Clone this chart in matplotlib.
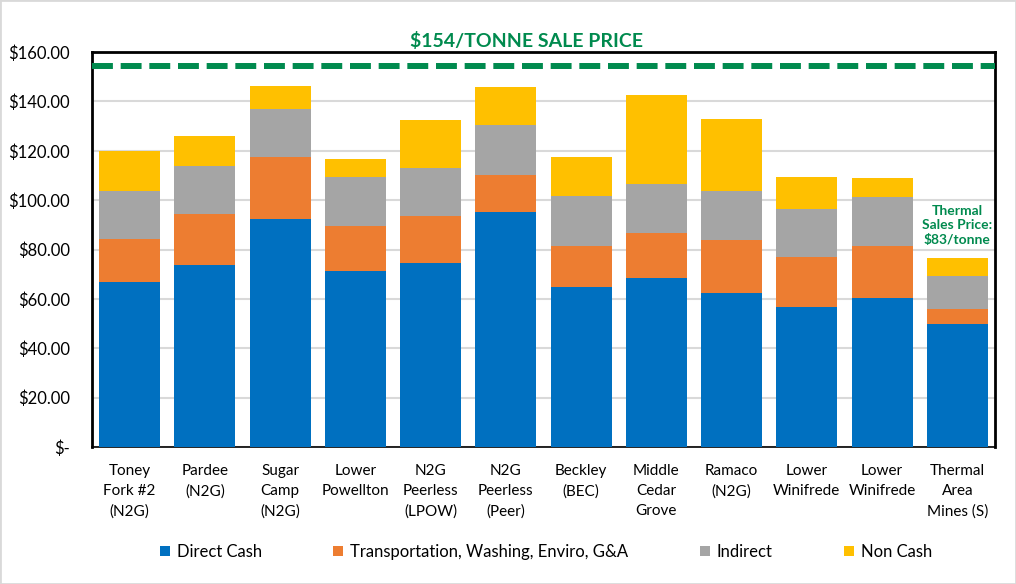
import matplotlib
matplotlib.use("Agg")
import matplotlib.pyplot as plt
import numpy as np
from matplotlib.patches import Rectangle

categories = ["Toney\nFork #2\n(N2G)", "Pardee\n(N2G)", "Sugar\nCamp\n(N2G)", "Lower\nPowellton",
              "N2G\nPeerless\n(LPOW)", "N2G\nPeerless\n(Peer)", "Beckley\n(BEC)", "Middle\nCedar\nGrove",
              "Ramaco\n(N2G)", "Lower\nWinifrede", "Lower\nWinifrede", "Thermal\nArea\nMines (S)"]
direct_cash = [66.7, 73.6, 92.3, 71.1, 74.4, 95.0, 64.7, 68.3, 62.2, 56.6, 60.2, 49.7]
transport = [17.4, 20.6, 25.0, 18.3, 19.0, 15.3, 16.9, 18.3, 21.5, 20.3, 21.1, 6.4]
indirect = [19.7, 19.8, 19.8, 19.8, 19.8, 20.0, 19.9, 19.8, 19.8, 19.7, 19.8, 13.0]
non_cash = [16.3, 11.8, 9.3, 7.3, 19.1, 15.7, 15.8, 36.0, 29.2, 12.6, 7.7, 7.3]
series_names = ["Direct Cash", "Transportation, Washing, Enviro, G&A", "Indirect", "Non Cash"]
colors = ["#0070c0", "#ed7d31", "#a5a5a5", "#ffc000"]
sale_price = 154.3
yticks = [0, 20, 40, 60, 80, 100, 120, 140, 160]
ytick_labels = ["$-", "$20.00", "$40.00", "$60.00", "$80.00", "$100.00", "$120.00", "$140.00", "$160.00"]
title_text = "$154/TONNE SALE PRICE"
thermal_note = "Thermal\nSales Price:\n$83/tonne"
thermal_note_y = 89.8

plt.rcParams['font.family'] = ['Lato', 'DejaVu Sans']
green = "#008a4e"

fig = plt.figure(figsize=(10.16, 5.84), dpi=100)
ax = fig.add_axes([92/1016, 1-447/584, (995-92)/1016, (447-52)/584])

x = np.arange(len(categories))
bottom = np.zeros(len(categories))
handles = []
for vals, c, name in zip([direct_cash, transport, indirect, non_cash], colors, series_names):
    b = ax.bar(x, vals, width=0.81, bottom=bottom, color=c, label=name, zorder=3)
    handles.append(b)
    bottom += np.array(vals)

ax.axhline(sale_price, color=green, lw=4.3, linestyle=(0, (3.5, 1.3)), zorder=4)

ax.set_xlim(-0.5, len(categories) - 0.5)
ax.set_ylim(0, 160)
ax.set_yticks(yticks)
ax.set_yticklabels(ytick_labels, fontsize=12)
ax.set_xticks(x)
ax.set_xticklabels(categories, fontsize=11, linespacing=1.55, va='top')
ax.tick_params(axis='y', length=0, pad=16)
ax.tick_params(axis='x', length=0, pad=12)
ax.grid(axis='y', color='#d9d9d9', lw=1.5, zorder=0)
ax.set_axisbelow(True)
for s in ax.spines.values():
    s.set_color('black')
    s.set_linewidth(2)
ax.spines['bottom'].set_linewidth(1.2)

ax.text(11, thermal_note_y, thermal_note, ha='center', va='center', color=green,
        fontsize=10, fontweight='bold', linespacing=1.25)

fig.text(526/1016, 1-41/584, title_text, ha='center', va='center', color=green,
         fontsize=14, fontweight='bold')

fig.legend(handles=handles, labels=series_names, loc='center', bbox_to_anchor=(546/1016, 1-552/584),
           ncol=4, frameon=False, fontsize=12, handlelength=0.6, handleheight=0.6,
           handletextpad=0.4, columnspacing=4.3)

fig.patches.append(Rectangle((0, 0), 1, 1, transform=fig.transFigure, fill=False,
                             edgecolor='#d9d9d9', lw=2))
fig.savefig("out.png", dpi=100)
